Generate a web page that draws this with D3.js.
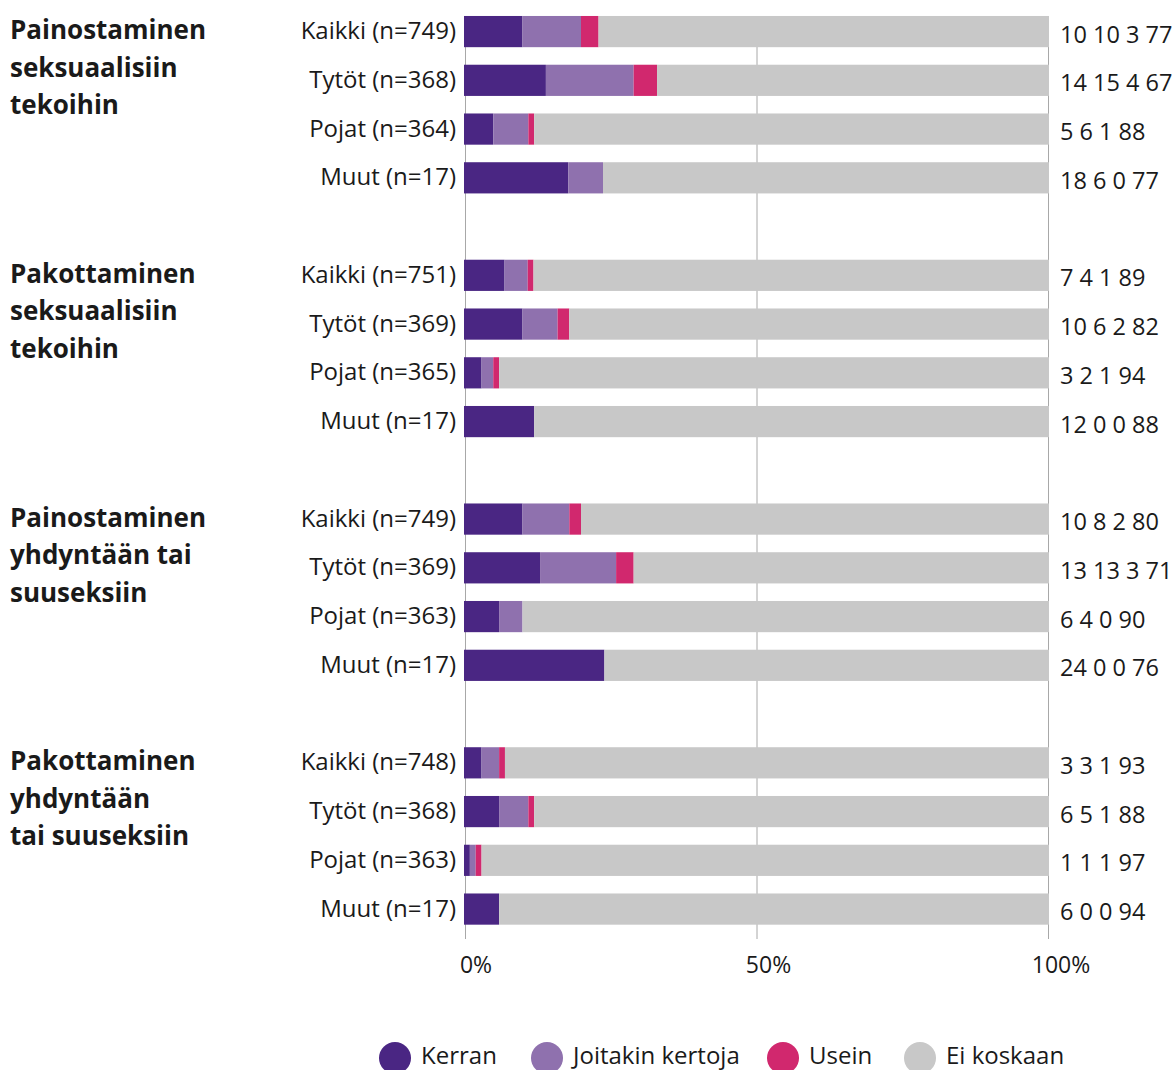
<!DOCTYPE html>
<html>
<head>
<meta charset="utf-8">
<script src="https://cdn.jsdelivr.net/npm/d3@7"></script>
<style>
  body { margin: 0; background: #fff; }
  svg text { font-family: "Open Sans", "Noto Sans", sans-serif; fill: #1a1a1a; }
</style>
</head>
<body>
<svg id="chart" width="1175" height="1070"></svg>
<script>
// otsikot, ryhmät ja vastausluokat
const groupTitles = [
    ["Painostaminen", "seksuaalisiin", "tekoihin"],
    ["Pakottaminen", "seksuaalisiin", "tekoihin"],
    ["Painostaminen", "yhdyntään tai", "suuseksiin"],
    ["Pakottaminen", "yhdyntään", "tai suuseksiin"]
];
const rowNames = ["Kaikki", "Tytöt", "Pojat", "Muut"];
const rowN = [
    [749, 368, 364, 17],
    [751, 369, 365, 17],
    [749, 369, 363, 17],
    [748, 368, 363, 17]
];
const answers = ["Kerran", "Joitakin kertoja", "Usein", "Ei koskaan"];
const colors = ["#4a2683", "#8f71ae", "#d1286e", "#c8c8c8"];

// prosentit: Kerran, Joitakin kertoja, Usein, Ei koskaan
const kerran   = [[10, 14, 5, 18], [7, 10, 3, 12], [10, 13, 6, 24], [3, 6, 1, 6]];
const joitakin = [[10, 15, 6, 6],  [4, 6, 2, 0],   [8, 13, 4, 0],   [3, 5, 1, 0]];
const usein    = [[3, 4, 1, 0],    [1, 2, 1, 0],   [2, 3, 0, 0],    [1, 1, 1, 0]];
const eiKoskaan= [[77, 67, 88, 77],[89, 82, 94, 88],[80, 71, 90, 76],[93, 88, 97, 94]];
const ticks = [0, 0.5, 1];

var svg = d3.select("#chart");

// rakennetaan rivit
var rows = [], slots = [];
groupTitles.forEach(function (t, g) {
    rowNames.forEach(function (nm, r) {
        var key = g + "-" + r;
        rows.push({
            key: key, g: g, r: r,
            label: nm + " (n=" + rowN[g][r] + ")",
            "Kerran": kerran[g][r],
            "Joitakin kertoja": joitakin[g][r],
            "Usein": usein[g][r],
            "Ei koskaan": eiKoskaan[g][r]
        });
        slots.push(key);
    });
    if (g < groupTitles.length - 1) slots.push("gap" + g);
});

var x = d3.scaleLinear().domain([0, 1]).range([464, 1049]);
var xGrid = d3.scaleLinear().domain([0, 1]).range([465.5, 1048.5]);
var y = d3.scaleBand().domain(slots).range([7.2, 7.2 + 48.75 * slots.length])
    .paddingInner(0.36).paddingOuter(0.18);

var series = d3.stack().keys(answers).offset(d3.stackOffsetExpand)(rows);

// pystyviivat
svg.append("g").selectAll("line").data(ticks).enter().append("line")
    .attr("x1", function (d) { return xGrid(d); })
    .attr("x2", function (d) { return xGrid(d); })
    .attr("y1", 16).attr("y2", 939)
    .attr("stroke", "#a8a8a8").attr("stroke-width", 1);

// pinotut palkit
svg.append("g").selectAll("g").data(series).enter().append("g")
    .attr("fill", function (d, i) { return colors[i]; })
    .selectAll("rect").data(function (d) { return d; }).enter().append("rect")
    .attr("x", function (d) { return x(d[0]); })
    .attr("width", function (d) { return Math.max(0, x(d[1]) - x(d[0])); })
    .attr("y", function (d) { return y(d.data.key); })
    .attr("height", y.bandwidth());

// rivien nimet
svg.append("g").selectAll("text").data(rows).enter().append("text")
    .attr("x", 456)
    .attr("y", function (d) { return y(d.key) + y.bandwidth() / 2 + 7.5; })
    .attr("text-anchor", "end")
    .style("font-size", "24px")
    .text(function (d) { return d.label; });

// arvot oikealla
svg.append("g").selectAll("text").data(rows).enter().append("text")
    .attr("x", 1060)
    .attr("y", function (d) { return y(d.key) + y.bandwidth() / 2 + 11; })
    .style("font-size", "23.5px")
    .text(function (d) { return answers.map(function (a) { return d[a]; }).join(" "); });

// ryhmien otsikot
svg.append("g").selectAll("text").data(groupTitles).enter().append("text")
    .attr("x", 10)
    .attr("y", function (d, g) { return y(g + "-0") + y.bandwidth() / 2 + 7.5; })
    .style("font-size", "26px")
    .style("font-weight", "bold")
    .each(function (d) {
        var t = d3.select(this);
        d.forEach(function (line, i) {
            t.append("tspan").attr("x", 10).attr("dy", i == 0 ? 0 : 37.5).text(line);
        });
    });

// x-akselin tekstit
svg.append("g").selectAll("text").data(ticks).enter().append("text")
    .attr("x", function (d) { return x(d) + 12; })
    .attr("y", 973)
    .attr("text-anchor", "middle")
    .style("font-size", "23px")
    .text(function (d) { return Math.round(d * 100) + "%"; });

// selite (kohteiden vasen reuna)
var legendX = [379, 531, 767, 904];
var legend = svg.append("g");
answers.forEach(function (a, i) {
    legend.append("circle").attr("cx", legendX[i] + 16).attr("cy", 1058).attr("r", 16).attr("fill", colors[i]);
    legend.append("text").attr("x", legendX[i] + 42).attr("y", 1064)
        .style("font-size", "24px").text(a);
});
</script>
</body>
</html>
